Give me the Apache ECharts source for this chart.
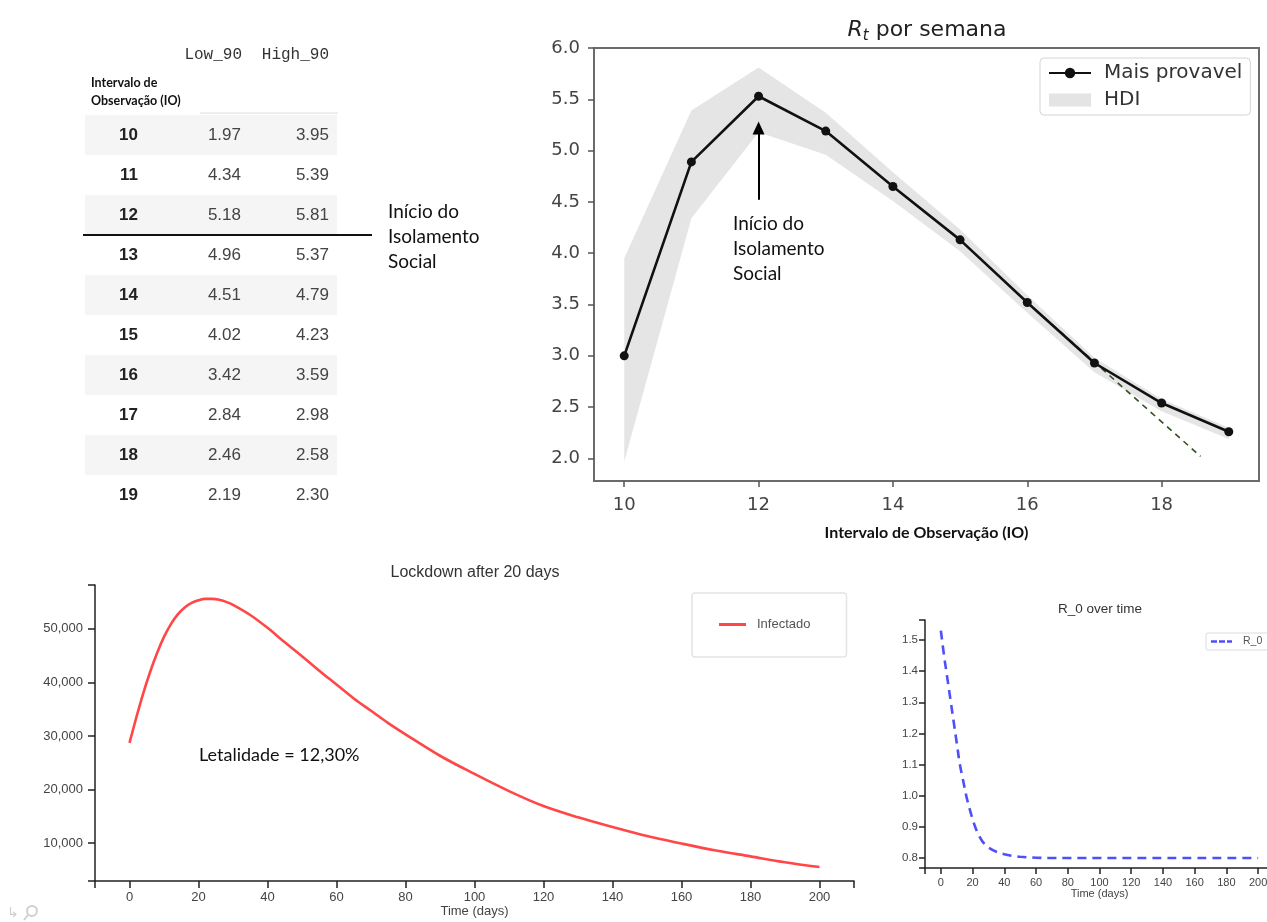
<!DOCTYPE html>
<html>
<head>
<meta charset="utf-8">
<script src="https://cdn.jsdelivr.net/npm/echarts@6/dist/echarts.min.js"></script>
<style>html,body{margin:0;padding:0;background:#fff}#c{width:1267px;height:922px}</style>
</head>
<body>
<div id="c"></div>
<script>
// ---------- data ----------
const IO = [10, 11, 12, 13, 14, 15, 16, 17, 18, 19];
const LOW_90 = [1.97, 4.34, 5.18, 4.96, 4.51, 4.02, 3.42, 2.84, 2.46, 2.19];
const HIGH_90 = [3.95, 5.39, 5.81, 5.37, 4.79, 4.23, 3.59, 2.98, 2.58, 2.30];
const RT_MAIS_PROVAVEL = [3.00, 4.89, 5.53, 5.19, 4.65, 4.13, 3.52, 2.93, 2.54, 2.26];
const RT_TREND = [[16, 3.52], [18.58, 2.02]];
const RT_ARROW = [[12, 4.52], [12, 5.22]];
const RT_X_TICKS = [10, 12, 14, 16, 18];
const RT_Y_TICKS = [2.0, 2.5, 3.0, 3.5, 4.0, 4.5, 5.0, 5.5, 6.0];

const DAYS_INF = [0, 2, 4, 6, 8, 10, 12, 14, 16, 18, 20, 22, 24, 26, 28, 30, 35, 40, 45, 50, 55, 60, 65, 70, 75, 80, 90, 100, 110, 120, 130, 140, 150, 160, 170, 180, 190, 200];
const INFECTADO = [28700, 33500, 38000, 42000, 45500, 48500, 50900, 52700, 54000, 54850, 55350, 55600, 55600, 55450, 55050, 54500, 52600, 50200, 47500, 44900, 42200, 39600, 37000, 34700, 32400, 30300, 26300, 22900, 19700, 16900, 14800, 13000, 11300, 9900, 8600, 7500, 6400, 5500];
const INF_X_TICKS = [0, 20, 40, 60, 80, 100, 120, 140, 160, 180, 200];
const INF_Y_TICKS = [10000, 20000, 30000, 40000, 50000];

const DAYS_R0 = [0, 2, 4, 6, 8, 10, 12, 14, 16, 18, 20, 22, 24, 26, 28, 30, 35, 40, 45, 50, 60, 70, 80, 90, 100, 110, 120, 130, 140, 150, 160, 170, 180, 190, 200];
const R0 = [1.53, 1.45, 1.38, 1.31, 1.24, 1.17, 1.10, 1.05, 1.00, 0.96, 0.925, 0.895, 0.872, 0.855, 0.843, 0.834, 0.820, 0.812, 0.807, 0.804, 0.801, 0.80, 0.80, 0.80, 0.80, 0.80, 0.80, 0.80, 0.80, 0.80, 0.80, 0.80, 0.80, 0.80, 0.80];
const R0_X_TICKS = [0, 20, 40, 60, 80, 100, 120, 140, 160, 180, 200];
const R0_Y_TICKS = [0.8, 0.9, 1.0, 1.1, 1.2, 1.3, 1.4, 1.5];

const TABLE_HEADERS = ['Low_90', 'High_90'];
const TABLE_INDEX_NAME = ['Intervalo de', 'Observação (IO)'];
const NOTE_LINES = ['Início do', 'Isolamento', 'Social'];
const LETALIDADE = 'Letalidade = 12,30%';

// ---------- helpers ----------
const zip = (a, b) => a.map((v, i) => [v, b[i]]);
const fmtThousands = v => Math.round(v).toString().replace(/\B(?=(\d{3})+(?!\d))/g, ',');

// ---------- table (graphic) ----------
const g = [];
const ROW0 = 135, ROWH = 40;
IO.forEach((io, i) => {
  const yc = ROW0 + i * ROWH;
  if (i % 2 === 0) {
    g.push({type: 'rect', silent: true, shape: {x: 85, y: yc - 20, width: 252, height: 40}, style: {fill: '#f5f5f5'}});
  }
});
g.push({type: 'line', silent: true, shape: {x1: 200, y1: 113, x2: 338, y2: 113}, style: {stroke: '#dedede', lineWidth: 1}});
g.push({type: 'text', x: 242, y: 55, style: {text: TABLE_HEADERS[0], font: '16px "Liberation Mono"', fill: '#333', textAlign: 'right', textVerticalAlign: 'middle'}});
g.push({type: 'text', x: 329, y: 55, style: {text: TABLE_HEADERS[1], font: '16px "Liberation Mono"', fill: '#333', textAlign: 'right', textVerticalAlign: 'middle'}});
g.push({type: 'text', x: 91, y: 83, style: {text: TABLE_INDEX_NAME[0], font: 'bold 12.5px Lato', fill: '#111', textAlign: 'left', textVerticalAlign: 'middle'}});
g.push({type: 'text', x: 91, y: 101, style: {text: TABLE_INDEX_NAME[1], font: 'bold 12.5px Lato', fill: '#111', textAlign: 'left', textVerticalAlign: 'middle'}});
IO.forEach((io, i) => {
  const yc = ROW0 + i * ROWH;
  g.push({type: 'text', x: 138, y: yc, style: {text: String(io), font: 'bold 17px "Liberation Sans"', fill: '#222', textAlign: 'right', textVerticalAlign: 'middle'}});
  g.push({type: 'text', x: 241, y: yc, style: {text: LOW_90[i].toFixed(2), font: '17px "Liberation Sans"', fill: '#444', textAlign: 'right', textVerticalAlign: 'middle'}});
  g.push({type: 'text', x: 329, y: yc, style: {text: HIGH_90[i].toFixed(2), font: '17px "Liberation Sans"', fill: '#444', textAlign: 'right', textVerticalAlign: 'middle'}});
});
g.push({type: 'line', silent: true, shape: {x1: 83, y1: 235, x2: 372, y2: 235}, style: {stroke: '#111', lineWidth: 2}});
NOTE_LINES.forEach((t, k) => {
  g.push({type: 'text', x: 388, y: 212 + k * 25, style: {text: t, font: '19px Lato', fill: '#111', textAlign: 'left', textVerticalAlign: 'middle'}});
  g.push({type: 'text', x: 733, y: 224 + k * 25, style: {text: t, font: '19px Lato', fill: '#111', textAlign: 'left', textVerticalAlign: 'middle'}});
});
g.push({type: 'text', x: 199, y: 755, style: {text: LETALIDADE, font: '18px Lato', fill: '#111', textAlign: 'left', textVerticalAlign: 'middle'}});
// toolbar icons (bottom-left)
g.push({type: 'text', x: 7, y: 913, style: {text: '↳', font: '14px "DejaVu Sans"', fill: '#cfcfcf', textAlign: 'left', textVerticalAlign: 'middle'}});
g.push({type: 'circle', silent: true, shape: {cx: 32, cy: 911, r: 5}, style: {fill: 'none', stroke: '#cfcfcf', lineWidth: 2}});
g.push({type: 'line', silent: true, shape: {x1: 28, y1: 915, x2: 24, y2: 920}, style: {stroke: '#cfcfcf', lineWidth: 2}});

// ---------- chart ----------
const chart = echarts.init(document.getElementById('c'), null, {renderer: 'canvas', width: 1267, height: 922});

const topAxisLabel = {fontFamily: 'DejaVu Sans', fontSize: 18, color: '#444'};
const bl = {fontFamily: 'Liberation Sans', fontSize: 13, color: '#444'};
const br = {fontFamily: 'Liberation Sans', fontSize: 11, color: '#444'};

const option = {
  animation: false,
  backgroundColor: '#fff',
  title: [
    {text: '{r|R}{t|t}{n| por semana}', left: 922, top: 12, textAlign: 'center',
     textStyle: {fontWeight: 'normal', rich: {
       r: {fontFamily: 'DejaVu Sans', fontStyle: 'italic', fontWeight: 'normal', fontSize: 22, color: '#222'},
       t: {fontFamily: 'DejaVu Sans', fontStyle: 'italic', fontWeight: 'normal', fontSize: 15, color: '#222', padding: [12, 0, 0, 0]},
       n: {fontFamily: 'DejaVu Sans', fontWeight: 'normal', fontSize: 22, color: '#222'}
     }}},
    {text: 'Lockdown after 20 days', left: 470, top: 560, textAlign: 'center',
     textStyle: {fontFamily: 'Liberation Sans', fontSize: 16, fontWeight: 'normal', color: '#333'}},
    {text: 'R_0 over time', left: 1095, top: 597, textAlign: 'center',
     textStyle: {fontFamily: 'Liberation Sans', fontSize: 13.5, fontWeight: 'normal', color: '#333'}}
  ],
  legend: [
    {data: [{name: 'Mais provavel'}, {name: 'HDI', icon: 'rect', itemStyle: {color: '#e4e4e4'}}],
     orient: 'vertical', left: 1040, top: 58, padding: [5, 8, 5, 8], itemWidth: 42, itemHeight: 13, itemGap: 7,
     backgroundColor: '#fff', borderColor: '#d4d4d4', borderWidth: 1, borderRadius: 4, selectedMode: false,
     textStyle: {fontFamily: 'DejaVu Sans', fontSize: 20, color: '#333', padding: [0, 0, 0, 8]}},
    {data: [{name: 'Infectado', icon: 'path://M0,0h27v3h-27z', itemStyle: {color: '#ff4747'}}],
     left: 692, top: 593, padding: [25, 36, 26, 27], itemWidth: 27, itemHeight: 3,
     borderColor: '#e4e4e4', borderWidth: 1.5, borderRadius: 3, selectedMode: false,
     textStyle: {fontFamily: 'Liberation Sans', fontSize: 13, color: '#555', padding: [0, 0, 0, 6]}},
    {data: [{name: 'R_0', icon: 'path://M0,0h6v2.5h-6zM8,0h6v2.5h-6zM16,0h5v2.5h-5z', itemStyle: {color: '#4f4ffa'}}],
     left: 1206, top: 633, padding: [3, 40, 3, 5], itemWidth: 21, itemHeight: 2.5,
     borderColor: '#dcdcdc', borderWidth: 1, borderRadius: 2, selectedMode: false,
     textStyle: {fontFamily: 'Liberation Sans', fontSize: 10.5, color: '#555', padding: [0, 0, 0, 6]}}
  ],
  grid: [
    {left: 594, top: 48, width: 665, height: 433, show: true, borderColor: '#6b6b6b', borderWidth: 2, outerBoundsMode: 'none'},
    {left: 95, top: 585, width: 759, height: 296, outerBoundsMode: 'none'},
    {left: 925, top: 620, width: 349, height: 248, outerBoundsMode: 'none'}
  ],
  xAxis: [
    {type: 'value', gridIndex: 0, min: 9.55, max: 19.45,
     axisLine: {show: false, onZero: false},
     axisTick: {show: true, length: 6, customValues: RT_X_TICKS, lineStyle: {color: '#555', width: 1.5}},
     axisLabel: Object.assign({margin: 15, customValues: RT_X_TICKS}, topAxisLabel),
     splitLine: {show: false},
     name: 'Intervalo de Observação (IO)', nameLocation: 'middle', nameGap: 44,
     nameTextStyle: {fontFamily: 'Lato', fontWeight: 'bold', fontSize: 16, color: '#111'}},
    {type: 'value', gridIndex: 1, min: -10, max: 210,
     axisLine: {show: true, onZero: false, lineStyle: {color: '#222', width: 1.5}},
     axisTick: {show: true, length: 7, customValues: [-10].concat(INF_X_TICKS, [210]), lineStyle: {color: '#222', width: 1.5}},
     axisLabel: Object.assign({margin: 10, customValues: INF_X_TICKS}, bl),
     splitLine: {show: false},
     name: 'Time (days)', nameLocation: 'middle', nameGap: 22, nameTextStyle: bl},
    {type: 'value', gridIndex: 2, min: -10, max: 210,
     axisLine: {show: true, onZero: false, lineStyle: {color: '#222', width: 1.5}},
     axisTick: {show: true, length: 6, customValues: [-10].concat(R0_X_TICKS, [210]), lineStyle: {color: '#222', width: 1.5}},
     axisLabel: Object.assign({margin: 9, customValues: R0_X_TICKS}, br),
     splitLine: {show: false},
     name: 'Time (days)', nameLocation: 'middle', nameGap: 19, nameTextStyle: br}
  ],
  yAxis: [
    {type: 'value', gridIndex: 0, min: 1.78, max: 6.0,
     axisLine: {show: false, onZero: false},
     axisTick: {show: true, length: 6, customValues: RT_Y_TICKS, lineStyle: {color: '#555', width: 1.5}},
     axisLabel: Object.assign({margin: 14, customValues: RT_Y_TICKS, formatter: v => v.toFixed(1)}, topAxisLabel),
     splitLine: {show: false}},
    {type: 'value', gridIndex: 1, min: 2900, max: 58200,
     axisLine: {show: true, onZero: false, lineStyle: {color: '#222', width: 1.5}},
     axisTick: {show: true, length: 7, customValues: [2900].concat(INF_Y_TICKS, [58200]), lineStyle: {color: '#222', width: 1.5}},
     axisLabel: Object.assign({margin: 12, customValues: INF_Y_TICKS, formatter: fmtThousands}, bl),
     splitLine: {show: false}},
    {type: 'value', gridIndex: 2, min: 0.768, max: 1.564,
     axisLine: {show: true, onZero: false, lineStyle: {color: '#222', width: 1.5}},
     axisTick: {show: true, length: 6, customValues: [0.768].concat(R0_Y_TICKS, [1.564]), lineStyle: {color: '#222', width: 1.5}},
     axisLabel: Object.assign({margin: 7, customValues: R0_Y_TICKS, formatter: v => v.toFixed(1)}, br, {fontSize: 11.5}),
     splitLine: {show: false}}
  ],
  series: [
    {name: 'HDI', type: 'custom', xAxisIndex: 0, yAxisIndex: 0, silent: true, z: 1,
     itemStyle: {color: '#e4e4e4'},
     data: IO.map((x, i) => [x, LOW_90[i], HIGH_90[i]]),
     renderItem: function (params, api) {
       if (params.dataIndex !== 0) return {type: 'group', children: []};
       const pts = [];
       for (let i = 0; i < IO.length; i++) pts.push(api.coord([IO[i], HIGH_90[i]]));
       for (let i = IO.length - 1; i >= 0; i--) pts.push(api.coord([IO[i], LOW_90[i]]));
       return {type: 'polygon', shape: {points: pts}, style: {fill: '#e5e5e5'}};
     }},
    {name: 'tendencia', type: 'line', xAxisIndex: 0, yAxisIndex: 0, data: RT_TREND, symbol: 'none', z: 2,
     lineStyle: {color: '#2f4f1f', width: 1.6, type: [6, 5]}, silent: true},
    {name: 'Mais provavel', type: 'line', xAxisIndex: 0, yAxisIndex: 0, z: 3,
     data: zip(IO, RT_MAIS_PROVAVEL), symbol: 'circle', symbolSize: 9, showSymbol: true,
     lineStyle: {color: '#111', width: 2.6}, itemStyle: {color: '#111'},
     markLine: {silent: true, symbol: ['none', 'triangle'], symbolSize: [12, 13],
       lineStyle: {color: '#000', width: 2, type: 'solid'}, label: {show: false},
       data: [[{coord: RT_ARROW[0]}, {coord: RT_ARROW[1]}]]}},
    {name: 'Infectado', type: 'line', xAxisIndex: 1, yAxisIndex: 1, data: zip(DAYS_INF, INFECTADO),
     symbol: 'none', smooth: 0.35, lineStyle: {color: '#ff4747', width: 2.6}, itemStyle: {color: '#ff4747'}},
    {name: 'R_0', type: 'line', xAxisIndex: 2, yAxisIndex: 2, data: zip(DAYS_R0, R0),
     symbol: 'none', smooth: 0.35, lineStyle: {color: '#4f4ffa', width: 2.6, type: [9, 6]}, itemStyle: {color: '#4f4ffa'}}
  ],
  graphic: g
};
chart.setOption(option);
</script>
</body>
</html>
